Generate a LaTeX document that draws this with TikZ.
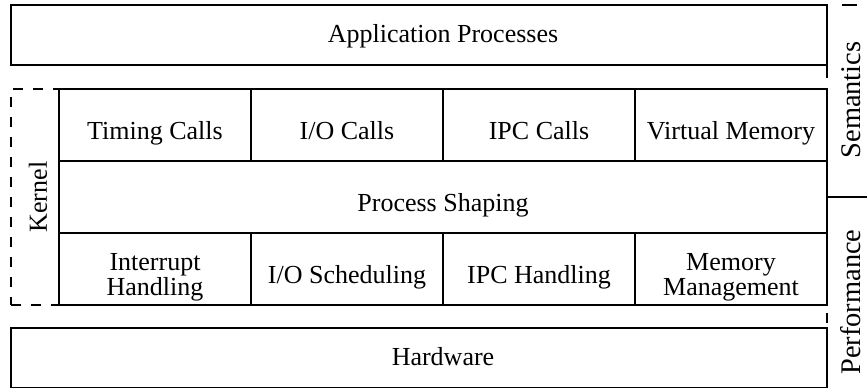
\documentclass[tikz,border=0pt]{standalone}
\usepackage{fontspec}
\setmainfont{Liberation Serif}
\usetikzlibrary{positioning}

\begin{document}
\begin{tikzpicture}[x=0.5pt,y=-0.5pt,node distance=0pt,
    every node/.style={font=\fontsize{13}{12.5}\selectfont},
    box/.style={draw,line width=0.6pt,inner sep=0pt,outer sep=0pt,align=center},
    cell/.style={box,minimum width=96pt,minimum height=36pt,text height=14pt,text depth=0pt},
    twoline/.style={cell,text height=26.5pt},
    wide/.style={box,minimum width=408pt,minimum height=30pt},
    caption/.style={inner sep=0pt,text height=9pt,text depth=2pt},
    side/.style={rotate=90,font=\fontsize{14.2}{16}\selectfont}]

  \useasboundingbox (0,0) rectangle (867,387);
  \clip (0,0) rectangle (867,387);

  % kernel, top row
  \node[cell,anchor=north west] (timing) at (59,89) {Timing Calls};
  \node[cell] (iocalls)  [right=of timing]  {I/O Calls};
  \node[cell] (ipccalls) [right=of iocalls] {IPC Calls};
  \node[cell] (vmem)     [right=of ipccalls] {Virtual Memory};

  % kernel, bottom row
  \node[twoline,anchor=north west] (irq) at ([yshift=-36pt]timing.south west) {Interrupt\\Handling};
  \node[cell] (iosched)   [right=of irq]     {I/O Scheduling};
  \node[cell] (ipchandle) [right=of iosched] {IPC Handling};
  \node[twoline] (memman) [right=of ipchandle] {Memory\\Management};

  \node[cell,line width=1.2pt,minimum width=384pt,anchor=north west]
    (shaping) at (timing.south west) {Process Shaping};

  % kernel frame
  \node[box,dashed,dash pattern=on 5pt off 5pt,minimum width=24pt,minimum height=108pt,
    anchor=north east] (kernel) at (timing.north west) {};
  \draw[line width=0.6pt] (timing.north west) -- (irq.south west);
  \node[rotate=90] (kernellabel) at ([xshift=1.5pt]kernel.center) {Kernel};

  % layers outside the kernel
  \node[wide] (app) at (419,35)  {};
  \node[wide] (hw)  at (419,358) {};
  \node[caption] (apptext) at (app.center -| shaping.center) {Application Processes};
  \node[caption] (hwtext)  at (hw.center -| shaping.center)  {Hardware};

  % semantics / performance scale
  \coordinate (s1) at (827,78);
  \coordinate (p1) at (827,313);
  \coordinate (p2) at (827,323);
  \coordinate (t1) at (842,5);
  \coordinate (t2) at (857,5);
  \coordinate (m1) at (828,197);
  \coordinate (m2) at (867,197);
  \draw[line width=0.6pt] (app.south east) -- (s1);
  \draw[line width=0.6pt] (p1) -- (p2);
  \draw[line width=0.6pt] (t1) -- (t2);
  \draw[line width=0.6pt] (m1) -- (m2);

  \node[side] (sem)  at (851,100) {Semantics};
  \node[side] (perf) at (851,302) {Performance};
\end{tikzpicture}
\end{document}
